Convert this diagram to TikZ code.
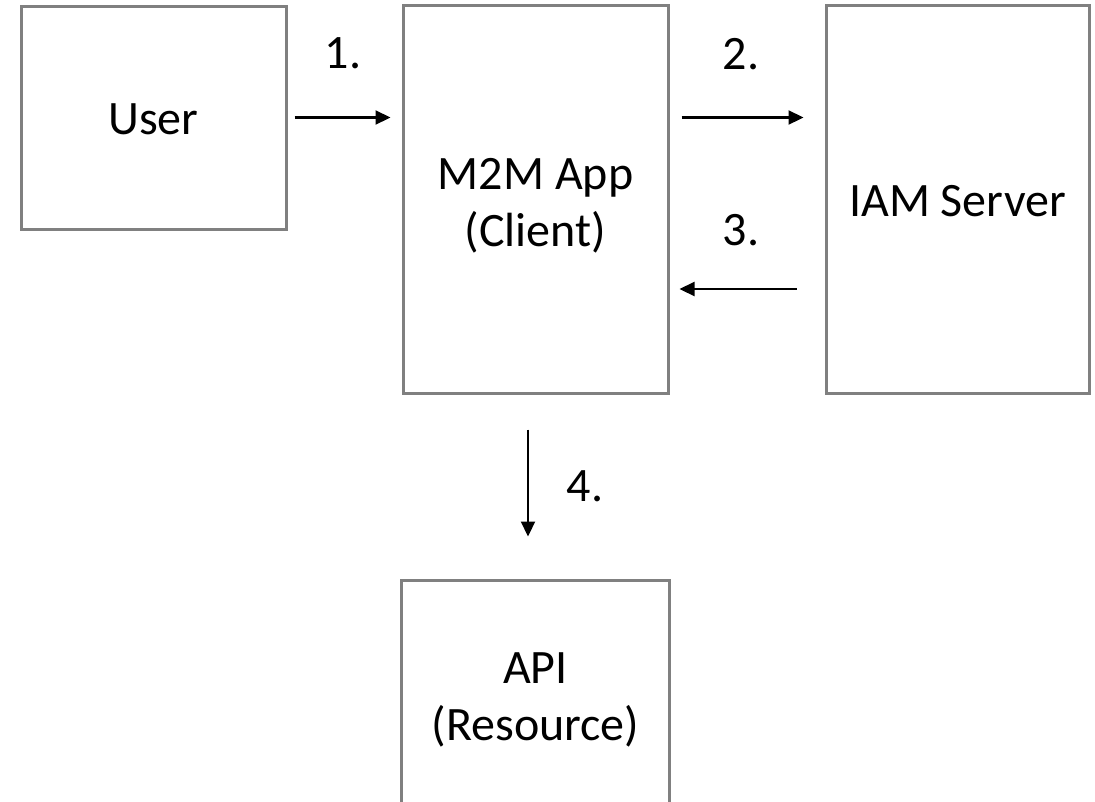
\documentclass[tikz,border=0pt]{standalone}
\usepackage{fontspec}
\setmainfont{Carlito}
\usetikzlibrary{arrows.meta}
\definecolor{boxgray}{RGB}{128,128,128}
\begin{document}
\begin{tikzpicture}[x=1pt,y=-1pt,
  box/.style={draw=boxgray, line width=3pt, align=center, inner sep=0pt,
              font=\fontsize{48}{57}\selectfont},
  border/.style={draw=boxgray, line width=3pt},
  lbl/.style={inner sep=0pt, font=\fontsize{48}{57}\selectfont},
  arr/.style={line width=2.2pt, -{Triangle[length=15pt,width=14pt]}}]
\clip (0,0) rectangle (1095,801);
\node[box, minimum width=265pt, minimum height=223pt] (user) at (153.5,117.5) {\rule{0pt}{35pt}User};
\node[box, minimum width=265pt, minimum height=388pt] (app) at (535.5,199) {\rule{0pt}{45pt}M2M App\\(Client)};
\node[box, minimum width=263pt, minimum height=388pt] (iam) at (957.5,199) {\rule{0pt}{35pt}IAM Server};
\node[box, draw=none, minimum width=265pt, minimum height=235pt] (api) at (535.5,699.5) {API\\(Resource)};
\draw[border] ([yshift=-300pt]api.north west) -- (api.north west) -- (api.north east) -- ([yshift=-300pt]api.north east);
\node[lbl] (l1) at (343,53) {1.};
\node[lbl] (l2) at (741,54) {2.};
\node[lbl] (l3) at (741,230) {3.};
\node[lbl] (l4) at (585,486) {4.};
\coordinate (y3) at (0,289);
\coordinate (x4) at (528,0);
\draw[arr, shorten <=7pt, shorten >=11pt] (user.east) -- (user.east -| app.west);
\draw[arr, shorten <=12pt, shorten >=21pt] (user.east -| app.east) -- (user.east -| iam.west);
\draw[arr, shorten <=28pt, shorten >=10pt] (y3 -| iam.west) -- (y3 -| app.east);
\draw[arr, shorten <=35pt, shorten >=44pt] (x4 |- app.south) -- (x4 |- api.north);
\end{tikzpicture}
\end{document}
